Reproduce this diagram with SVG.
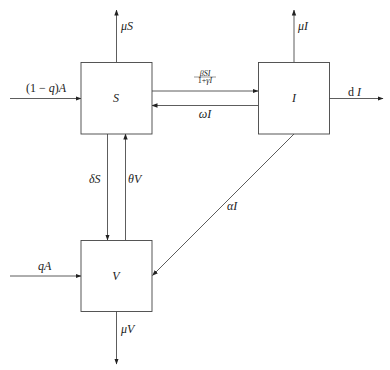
<svg xmlns="http://www.w3.org/2000/svg" width="390" height="370" viewBox="0 0 390 370">
<style>
.box{fill:#fff;stroke:#444;stroke-width:0.9}
.ln{fill:none;stroke:#333;stroke-width:0.8;marker-end:url(#ah)}
text{font-family:"Liberation Serif","DejaVu Serif",serif;font-size:12px;fill:#222}
.it{font-style:italic}
.c{text-anchor:middle}
.sm{font-size:8px}
</style>
<defs>
<marker id="ah" viewBox="0 0 6 6" refX="5.5" refY="3" markerWidth="6" markerHeight="6" markerUnits="userSpaceOnUse" orient="auto">
<path d="M0,0.8 L6,3 L0,5.2 Z" fill="#222"/>
</marker>
</defs>
<g id="connectors">
<line class="ln" x1="116.5" y1="62" x2="116.5" y2="10"/>
<line class="ln" x1="10" y1="98.5" x2="81" y2="98.5"/>
<line class="ln" x1="152" y1="91" x2="258" y2="91"/>
<line class="ln" x1="258" y1="105.5" x2="152" y2="105.5"/>
<line class="ln" x1="294" y1="62" x2="294" y2="10"/>
<line class="ln" x1="329" y1="98.5" x2="383" y2="98.5"/>
<line class="ln" x1="294" y1="134" x2="152.5" y2="275.5"/>
<line class="ln" x1="107.5" y1="134" x2="107.5" y2="240"/>
<line class="ln" x1="125.5" y1="240" x2="125.5" y2="134"/>
<line class="ln" x1="10" y1="276" x2="81" y2="276"/>
<line class="ln" x1="116.5" y1="311" x2="116.5" y2="364"/>
<text class="it" x="121" y="30">μS</text>
<text x="46" y="92" class="c">(1 − <tspan class="it">q</tspan>)<tspan class="it">A</tspan></text>
<text class="it sm c" x="205" y="75.5">βSI</text>
<line x1="194" y1="77" x2="216" y2="77" stroke="#333" stroke-width="0.5"/>
<text class="sm c" x="205" y="83">1+<tspan class="it">γI</tspan></text>
<text class="it c" x="205" y="118">ωI</text>
<text class="it" x="298" y="30">μI</text>
<text x="348" y="96">d <tspan class="it">I</tspan></text>
<text class="it" x="227" y="210">αI</text>
<text class="it" x="89" y="183">δS</text>
<text class="it" x="128" y="183">θV</text>
<text class="it" x="38" y="270">qA</text>
<text class="it" x="121" y="333">μV</text>
</g>
<g id="S"><rect class="box" x="81" y="62.5" width="71" height="71.5"/><text class="it c" x="116" y="102">S</text></g>
<g id="I"><rect class="box" x="258.5" y="62.5" width="71" height="71.5"/><text class="it c" x="294" y="102">I</text></g>
<g id="V"><rect class="box" x="81" y="240.5" width="71" height="71"/><text class="it c" x="116" y="280">V</text></g>
</svg>
